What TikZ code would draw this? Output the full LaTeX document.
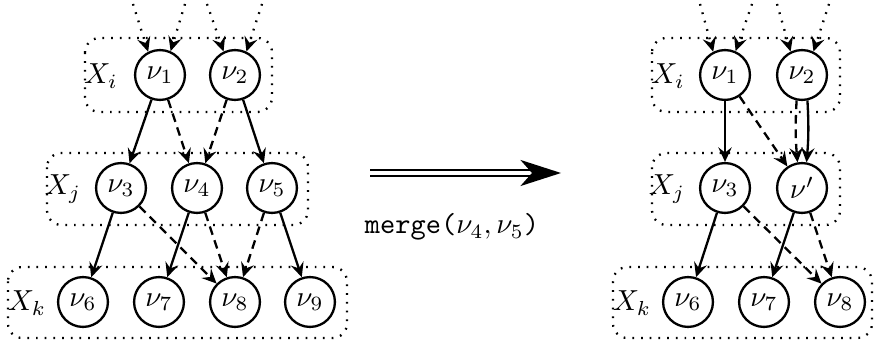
\documentclass[tikz,border=0pt]{standalone}
\usetikzlibrary{arrows.meta}
\begin{document}
\begin{tikzpicture}[x=0.345pt,y=-0.345pt,
  vtx/.style={circle,draw,thick,minimum size=17.2pt,inner sep=0pt},
  grp/.style={thick,dash pattern=on 0.6pt off 2.4pt,rounded corners=5pt},
  edg/.style={thick,-{Stealth[length=5pt,width=4.6pt,inset=1.8pt]}},
  dsh/.style={edg,dash pattern=on 3pt off 2pt},
  inc/.style={edg,dash pattern=on 0.6pt off 2.4pt}]
\useasboundingbox (0,0) rectangle (874,343);
% before the merge
\draw[grp] (85,38) rectangle (272,112);
\draw[grp] (47,153) rectangle (308,225);
\draw[grp] (8,267) rectangle (347,338);
\node (li) at (101,76) {$X_i$};
\node (lj) at (63,189) {$X_j$};
\node (lk) at (27,303) {$X_k$};
\node[vtx] (n1) at (160,75) {$\nu_1$};
\node[vtx] (n2) at (235,75) {$\nu_2$};
\node[vtx] (n3) at (121,188) {$\nu_3$};
\node[vtx] (n4) at (197,188) {$\nu_4$};
\node[vtx] (n5) at (272,188) {$\nu_5$};
\node[vtx] (n6) at (83,302) {$\nu_6$};
\node[vtx] (n7) at (159,302) {$\nu_7$};
\node[vtx] (n8) at (235,302) {$\nu_8$};
\node[vtx] (n9) at (310,302) {$\nu_9$};
\coordinate (a1) at (133,4);
\coordinate (a2) at (185,4);
\coordinate (a3) at (207,4);
\coordinate (a4) at (262,4);
\draw[inc] (a1) -- (n1.117);
\draw[inc] (a2) -- (n1.66);
\draw[inc] (a3) -- (n2.116);
\draw[inc] (a4) -- (n2.64);
\draw[edg] (n1) -- (n3);
\draw[dsh] (n1) -- (n4);
\draw[dsh] (n2) -- (n4);
\draw[edg] (n2) -- (n5);
\draw[edg] (n3) -- (n6);
\draw[dsh] (n3) -- (n8);
\draw[edg] (n4) -- (n7);
\draw[dsh] (n4) -- (n8);
\draw[dsh] (n5) -- (n8);
\draw[edg] (n5) -- (n9);
% merge step
\coordinate (arrS) at (370,173);
\coordinate (arrE) at (561,173);
\draw[double,double distance=1.6pt,line width=0.6pt,-{Stealth[length=14pt,width=9pt,inset=4pt]}] (arrS) -- (arrE);
\node (mg) at (452,227) {\texttt{merge(}$\nu_4,\nu_5$\texttt{)}};
% after the merge
\draw[grp] (652,38) rectangle (840,112);
\draw[grp] (652,153) rectangle (840,225);
\draw[grp] (613,267) rectangle (872,338);
\node (ri) at (668,76) {$X_i$};
\node (rj) at (667,189) {$X_j$};
\node (rk) at (632,303) {$X_k$};
\node[vtx] (m1) at (725,75) {$\nu_1$};
\node[vtx] (m2) at (802,75) {$\nu_2$};
\node[vtx] (m3) at (725,188) {$\nu_3$};
\node[vtx] (mm) at (802,188) {$\nu'$};
\node[vtx] (m6) at (688,302) {$\nu_6$};
\node[vtx] (m7) at (764,302) {$\nu_7$};
\node[vtx] (m8) at (840,302) {$\nu_8$};
\coordinate (b1) at (700,4);
\coordinate (b2) at (752,4);
\coordinate (b3) at (777,4);
\coordinate (b4) at (829,4);
\draw[inc] (b1) -- (m1.117);
\draw[inc] (b2) -- (m1.66);
\draw[inc] (b3) -- (m2.116);
\draw[inc] (b4) -- (m2.64);
\draw[edg] (m1) -- (m3);
\draw[dsh] (m1) -- (mm);
\draw[dsh] (m2.258) to[bend right=4] (mm.100);
\draw[edg] (m2.282) to[bend left=4] (mm.80);
\draw[edg] (m3) -- (m6);
\draw[dsh] (m3) -- (m8);
\draw[edg] (mm) -- (m7);
\draw[dsh] (mm) -- (m8);
\end{tikzpicture}
\end{document}
